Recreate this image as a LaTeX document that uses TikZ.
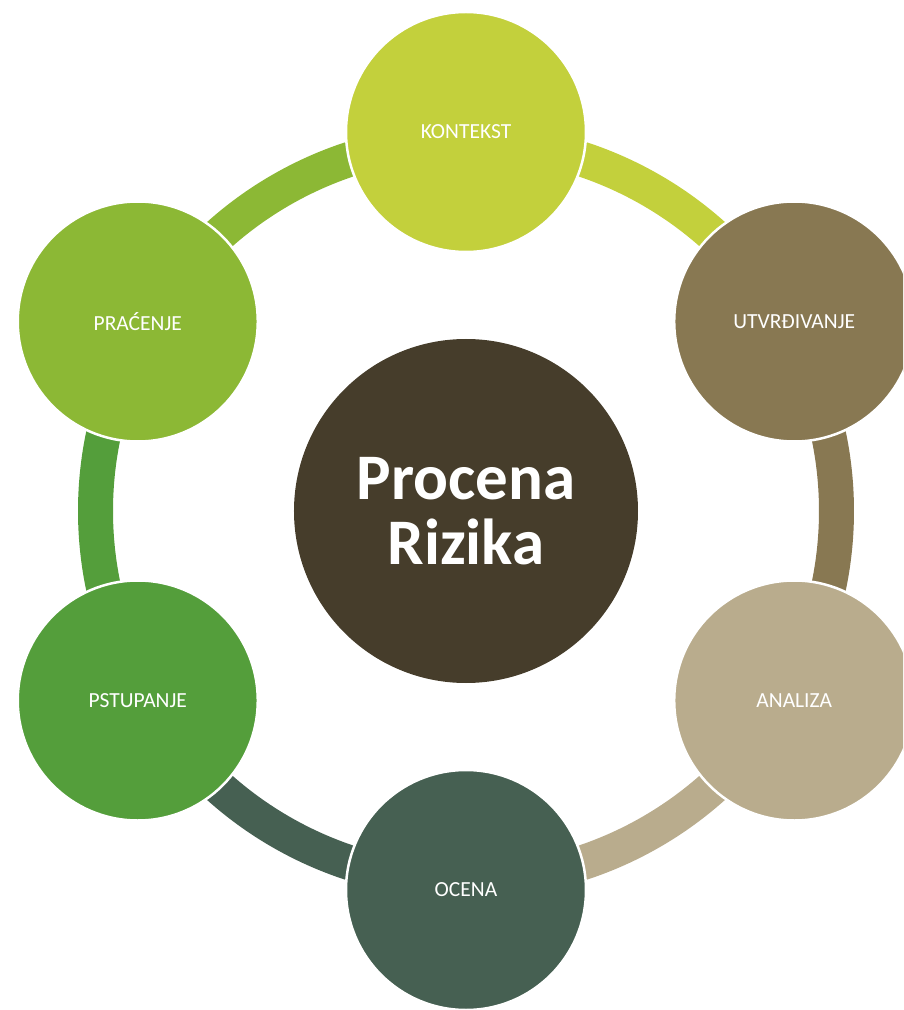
\documentclass[tikz,border=0pt]{standalone}
\usepackage{fontspec}
\setmainfont{Carlito}
\definecolor{cKon}{HTML}{C3D03C}
\definecolor{cUtv}{HTML}{887852}
\definecolor{cAna}{HTML}{B9AC8D}
\definecolor{cOce}{HTML}{466052}
\definecolor{cPst}{HTML}{549E3B}
\definecolor{cPra}{HTML}{8CB835}
\definecolor{cMid}{HTML}{463D2B}
\begin{document}
\begin{tikzpicture}[x=1pt,y=1pt,
  ringarc/.style={line width=35pt},
  stepcircle/.style={circle, minimum size=240pt, inner sep=0pt, draw=white, line width=2.5pt, text=white, font=\fontsize{21.5}{26}\selectfont},
  midcircle/.style={circle, minimum size=344pt, inner sep=0pt, fill=cMid, text=white, align=center, font=\fontsize{65}{65}\selectfont\bfseries}]
\useasboundingbox (-466,-499) rectangle (437,511);
\clip (-466,-499) rectangle (437,511);
\coordinate (o) at (0,0);
\draw[ringarc, cKon] ([shift={(90:370.5)}]o) arc[start angle=90, end angle=30, radius=370.5];
\draw[ringarc, cUtv] ([shift={(30:370.5)}]o) arc[start angle=30, end angle=-30, radius=370.5];
\draw[ringarc, cAna] ([shift={(-30:370.5)}]o) arc[start angle=-30, end angle=-90, radius=370.5];
\draw[ringarc, cOce] ([shift={(-90:370.5)}]o) arc[start angle=-90, end angle=-150, radius=370.5];
\draw[ringarc, cPst] ([shift={(-150:370.5)}]o) arc[start angle=-150, end angle=-210, radius=370.5];
\draw[ringarc, cPra] ([shift={(150:370.5)}]o) arc[start angle=150, end angle=90, radius=370.5];
\node[midcircle] (mid) at (o) {Procena\\Rizika};
\node[stepcircle, fill=cKon] (kon) at (90:379) {KONTEKST};
\node[stepcircle, fill=cUtv] (utv) at (30:379) {UTVRĐIVANJE};
\node[stepcircle, fill=cAna] (ana) at (-30:379) {ANALIZA};
\node[stepcircle, fill=cOce] (oce) at (-90:379) {OCENA};
\node[stepcircle, fill=cPst] (pst) at (-150:379) {PSTUPANJE};
\node[stepcircle, fill=cPra] (pra) at (150:379) {PRAĆENJE};
\end{tikzpicture}
\end{document}
